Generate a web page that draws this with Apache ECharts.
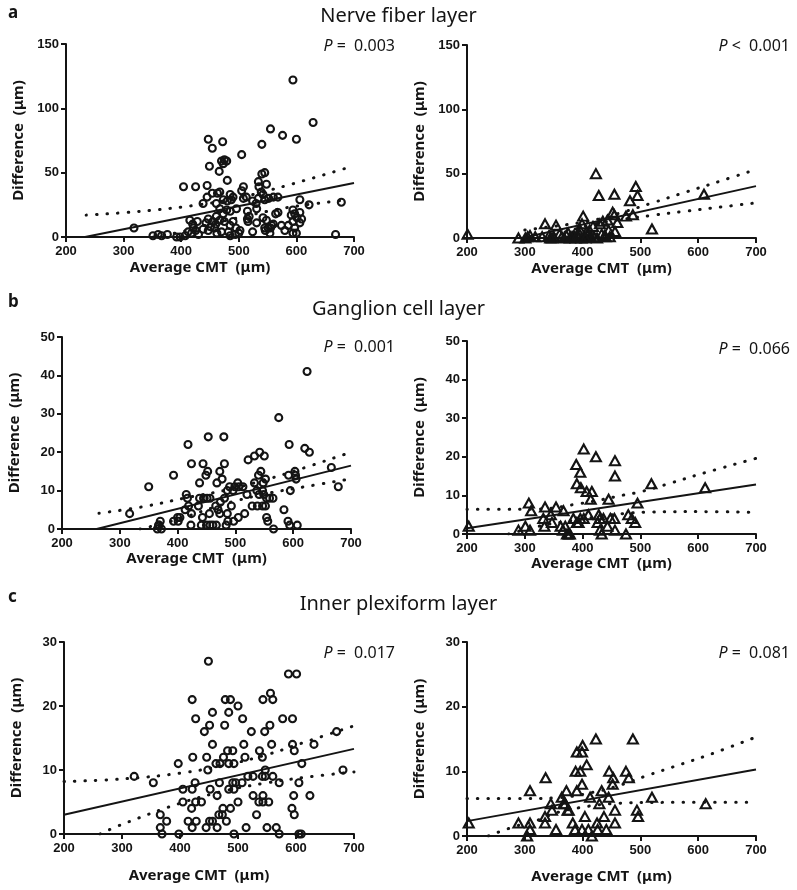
<!DOCTYPE html>
<html><head><meta charset="utf-8">
<script src="https://cdn.jsdelivr.net/npm/echarts@6/dist/echarts.min.js"></script>
<style>html,body{margin:0;padding:0;background:#fff}#c{width:797px;height:890px}</style>
</head><body><div id="c"></div>
<script>
// ---------- data ----------
const xTicks = [200, 300, 400, 500, 600, 700];
const nflYTicks = [0, 50, 100, 150];
const gclYTicks = [0, 10, 20, 30, 40, 50];
const iplYTicks = [0, 10, 20, 30];
const layerTitles = ['Nerve fiber layer', 'Ganglion cell layer', 'Inner plexiform layer'];
const panelLetters = ['a', 'b', 'c'];
const pSigns = ['=', '<', '=', '=', '=', '='];
const pValues = ['0.003', '0.001', '0.001', '0.066', '0.017', '0.081'];
const xName = 'Average CMT  (\u03bcm)';
const yName = 'Difference  (\u03bcm)';

// Nerve fiber layer – left (circles)
const nflLeftPoints = [[594,122],[629,89],[555,84],[576,79],[600,76],[540,72],[447,76],[472,74],[454,69],[505,64],
[470,59],[475,60],[479,59],[473,57],[449,55],[466,51],[480,44],[540,49],[545,50],[534,43],[548,41],
[404,39],[425,39],[445,40],[508,39],[505,36],[454,34],[463,34],[467,35],[445,31],[438,26],
[461,26],[473,29],[480,28],[487,29],[485,33],[490,31],[508,30],[513,31],[524,28],[530,26],
[535,39],[539,35],[542,33],[534,30],[545,29],[552,30],[560,31],[568,31],
[531,22],[515,20],[496,22],[479,21],[485,20],[467,22],[473,18],[461,16],[455,12],[467,13],
[447,14],[443,11],[451,8],[447,5],[438,6],[415,13],[420,10],[421,7],[418,3],
[407,1],[398,0],[392,0],[366,1],[360,2],[351,1],[318,7],
[485,9],[490,12],[495,7],[482,4],[494,2],[485,1],[516,12],[518,16],[515,14],[524,4],[531,11],
[542,15],[548,13],[557,9],[551,7],[545,7],[554,3],[568,19],[564,18],
[586,9],[594,12],[594,21],[597,18],[601,15],[606,19],[609,14],[606,11],[597,7],[594,3],
[622,25],[606,29],[668,2],[678,27],[591,17],
[425,5],[430,2],[460,10],[475,12],[500,3],[502,5],[470,4],[555,7],[560,10],[546,5],[412,4],[376,2],[462,3],[458,7],[428,12],[574,9],[580,5],[600,3]];
const nflLeftFit = [[233,0],[700,42]];
const nflLeftUpper = [[235,17],[330,20],[430,25],[500,30.5],[583,40],[690,54]];
const nflLeftLower = [[352,0],[400,4],[450,10],[500,15],[550,20],[600,24],[690,29]];

// Nerve fiber layer – right (triangles)
const nflRightPoints = [[201,3],[289,0],[301,0],[305,1],[309,2],[335,11],[354,10],[344,0],[347,0],[350,1],[364,1],[368,0],[372,2],[378,0],[383,1],[388,0],[393,1],[396,6],[399,11],[401,17],[407,5],[409,2],[413,2],[418,9],[420,1],[423,50],[425,0],[428,33],[430,11],[433,3],[435,13],[440,1],[443,14],[445,6],[447,1],[452,20],[455,34],[455,18],[456,5],[460,12],[475,17],[482,29],[487,18],[492,40],[495,33],[520,7],[610,34],
[360,3],[375,4],[385,2],[395,3],[403,1],[412,6],[380,1],[390,2],[398,0],[405,0],[438,2],[330,1],[342,2],[318,1]];
const nflRightFit = [[295,0],[700,40.3]];
const nflRightUpper = [[300,6.2],[340,8.5],[370,10.2],[420,13.9],[470,20.1],[520,27.2],[580,35.9],[640,44.5],[700,53.3]];
const nflRightLower = [[335,0],[370,4.7],[420,10.9],[470,14.6],[520,17.6],[580,20.9],[640,24.1],[700,27.3]];

// Ganglion cell layer – left
const gclLeftPoints = [[624,41],[575,29],[418,22],[453,24],[480,24],[593,22],[620,21],[628,20],
[424,17],[444,17],[481,17],[522,18],[533,19],[542,20],[550,19],
[393,14],[452,15],[473,15],[438,12],[449,14],[477,13],[350,11],[317,4],
[415,9],[417,8],[468,12],[490,11],[499,11],[506,11],[513,11],[486,10],[496,10],[504,12],[520,9],
[533,12],[540,14],[544,15],[548,12],[537,10],[541,9],[547,10],[552,13],
[529,6],[538,6],[547,6],[552,6],[549,9],[554,8],[559,8],[565,8],
[592,14],[605,13],[595,10],[603,15],[604,14],[666,16],[678,11],[584,5],[554,3],[556,2],[566,0],[591,2],[594,1],[607,1],
[516,4],[505,3],[497,2],[486,4],[487,2],[484,1],[455,4],[466,6],[470,5],[473,4],
[443,3],[450,1],[456,1],[461,1],[467,1],[424,4],[423,1],[441,1],[401,2],[393,2],[365,0],[367,1],[370,2],[372,0],[368,1],
[413,5],[419,6],[436,6],[445,8],[451,8],[456,8],[474,7],[481,8],[438,8],[446,8],[493,6],[400,3],[404,3]];
const gclLeftFit = [[260,0],[700,16.5]];
const gclLeftUpper = [[264,4.1],[340,5.8],[420,8.3],[480,10],[540,12.3],[600,15],[690,19.5]];
const gclLeftLower = [[335,0],[400,2.5],[460,5.5],[500,7.3],[560,9.4],[620,11],[690,12.8]];

// Ganglion cell layer – right
const gclRightPoints = [[203,2],[289,1],[301,2],[309,1],[307,8],[311,6],[332,4],[334,2],[335,7],[345,5],[347,3],[354,7],[362,2],[366,1],[367,6],[370,2],[373,0],[376,0],[378,0],[384,4],[389,18],[390,13],[390,3],[393,3],[396,16],[396,4],[397,12],[402,22],[402,4],[407,11],[410,5],[414,9],[416,11],[423,20],[426,3],[428,5],[430,4],[430,1],[433,0],[436,4],[443,2],[445,9],[448,4],[455,4],[456,19],[456,15],[456,1],[475,0],[479,5],[485,4],[491,3],[495,8],[519,13],[612,12]];
const gclRightFit = [[200,1.5],[700,12.8]];
const gclRightUpper = [[200,6.4],[260,6.4],[327,6.5],[396,7.9],[430,8.8],[471,10.1],[499,10.9],[546,12.9],[603,15.5],[700,19.6]];
const gclRightLower = [[272,0],[330,2.2],[378,3.4],[413,4.2],[471,5.3],[520,5.7],[603,5.8],[700,5.6]];

// Inner plexiform layer – left
const iplLeftPoints = [[449,27],[587,25],[601,25],[421,21],[478,21],[487,21],[543,21],[556,22],[560,21],
[456,19],[484,19],[500,20],[427,18],[508,18],[577,18],[594,18],[442,16],[451,17],[477,17],[523,16],[546,16],[555,17],
[456,14],[510,14],[558,14],[594,14],[631,14],[670,16],[482,13],[491,13],[537,13],[597,13],
[422,12],[446,12],[475,12],[512,12],[542,12],[462,11],[469,11],[484,11],[493,11],[397,11],[610,11],
[448,10],[547,10],[681,10],[321,9],[354,8],[426,8],[468,8],[491,8],[496,8],[507,8],[517,9],[526,9],[542,9],[547,9],[560,9],[571,8],[605,8],
[405,7],[421,7],[452,7],[484,7],[493,7],[464,6],[526,6],[543,6],[596,6],[624,6],
[405,5],[427,5],[437,5],[500,5],[536,5],[543,5],[553,5],[420,4],[474,4],[487,4],[593,4],
[366,3],[467,3],[473,3],[532,3],[597,3],[377,2],[414,2],[428,2],[451,2],[456,2],[480,2],
[366,1],[421,1],[445,1],[464,1],[514,1],[550,1],[566,1],[369,0],[398,0],[493,0],[571,0],[605,0],[609,0]];
const iplLeftFit = [[200,3],[700,13.3]];
const iplLeftUpper = [[200,8.2],[300,8.6],[400,9.5],[480,10.8],[550,12.4],[620,14.5],[700,16.9]];
const iplLeftLower = [[262,0],[300,1.5],[400,4.8],[480,6.8],[550,8.0],[620,8.9],[700,9.7]];

// Inner plexiform layer – right
const iplRightPoints = [[203,2],[289,2],[304,0],[309,1],[309,2],[309,7],[336,9],[335,3],[335,2],[345,5],[347,4],[354,1],[364,6],[367,5],[370,5],[372,7],[374,4],[376,4],[383,2],[387,1],[388,10],[390,13],[390,7],[396,10],[399,13],[399,8],[399,1],[400,14],[404,3],[407,11],[410,1],[413,6],[416,0],[423,15],[425,2],[426,1],[429,5],[433,7],[437,3],[441,1],[445,6],[446,10],[453,9],[452,8],[456,4],[456,2],[475,10],[480,9],[487,15],[494,4],[496,3],[520,6],[613,5]];
const iplRightFit = [[200,2.3],[700,10.3]];
const iplRightUpper = [[200,5.8],[300,5.8],[355,5.9],[420,6.8],[470,8.0],[510,9.3],[557,10.7],[620,12.6],[700,15.3]];
const iplRightLower = [[237,0],[280,1.4],[324,2.5],[355,3.6],[396,4.4],[450,5.0],[550,5.2],[700,5.2]];

// ---------- layout / style ----------
const INK = '#141414';
const panels = [
  {grid:{left:66, top:44, width:288, height:193}, pts:nflLeftPoints, fit:nflLeftFit, up:nflLeftUpper, lo:nflLeftLower, yt:nflYTicks, sym:'circle', xGap:23},
  {grid:{left:467, top:45, width:289, height:193}, pts:nflRightPoints, fit:nflRightFit, up:nflRightUpper, lo:nflRightLower, yt:nflYTicks, sym:'triangle', xGap:23},
  {grid:{left:62, top:337, width:289, height:192}, pts:gclLeftPoints, fit:gclLeftFit, up:gclLeftUpper, lo:gclLeftLower, yt:gclYTicks, sym:'circle', xGap:21},
  {grid:{left:467, top:341, width:289, height:193}, pts:gclRightPoints, fit:gclRightFit, up:gclRightUpper, lo:gclRightLower, yt:gclYTicks, sym:'triangle', xGap:19},
  {grid:{left:64, top:642, width:290, height:192}, pts:iplLeftPoints, fit:iplLeftFit, up:iplLeftUpper, lo:iplLeftLower, yt:iplYTicks, sym:'circle', xGap:34},
  {grid:{left:467, top:642, width:289, height:194}, pts:iplRightPoints, fit:iplRightFit, up:iplRightUpper, lo:iplRightLower, yt:iplYTicks, sym:'triangle', xGap:33}
];
const pTops = [38, 38, 339, 341, 645, 645];

const grids = [], xAxes = [], yAxes = [], series = [], titles = [];
panels.forEach((p, i) => {
  grids.push(Object.assign({containLabel:false}, p.grid));
  xAxes.push({
    type:'value', gridIndex:i, min:xTicks[0], max:xTicks[xTicks.length-1], interval:xTicks[1]-xTicks[0],
    axisLine:{show:true, onZero:false, lineStyle:{color:INK, width:2}},
    axisTick:{show:true, length:5, lineStyle:{color:INK, width:2}},
    axisLabel:{color:INK, fontFamily:'Liberation Sans', fontWeight:'bold', fontSize:13, margin:8},
    splitLine:{show:false},
    name:xName, nameLocation:'middle', nameGap:p.xGap,
    nameTextStyle:{color:INK, fontFamily:'Noto Sans', fontWeight:'bold', fontSize:15, padding:[0,20,0,0]}
  });
  yAxes.push({
    type:'value', gridIndex:i, min:p.yt[0], max:p.yt[p.yt.length-1], interval:p.yt[1]-p.yt[0],
    axisLine:{show:true, onZero:false, lineStyle:{color:INK, width:2}},
    axisTick:{show:true, length:5, lineStyle:{color:INK, width:2}},
    axisLabel:{color:INK, fontFamily:'Liberation Sans', fontWeight:'bold', fontSize:13, margin:7},
    splitLine:{show:false},
    name:yName, nameLocation:'middle', nameGap:40,
    nameTextStyle:{color:INK, fontFamily:'Noto Sans', fontWeight:'bold', fontSize:15}
  });
  series.push({
    type:'scatter', xAxisIndex:i, yAxisIndex:i, data:p.pts,
    symbol:p.sym, symbolSize:p.sym === 'circle' ? 7 : [10, 9],
    itemStyle:{color:'rgba(0,0,0,0)', borderColor:INK, borderWidth:2.1, opacity:1},
    z:3, silent:true
  });
  series.push({
    type:'line', xAxisIndex:i, yAxisIndex:i, data:p.fit, showSymbol:false, symbol:'none',
    lineStyle:{color:INK, width:2}, z:4, silent:true
  });
  [p.up, p.lo].forEach(band => series.push({
    type:'line', xAxisIndex:i, yAxisIndex:i, data:band, showSymbol:false, symbol:'none', smooth:0.4,
    lineStyle:{color:INK, width:3, type:[0.5, 10], cap:'round'}, z:4, silent:true
  }));
  const isLeft = (i % 2 === 0);
  titles.push({
    text:'{i|P} ' + pSigns[i] + '  ' + pValues[i],
    right: isLeft ? 402 : 7, top: pTops[i], padding:0,
    textStyle:{color:INK, fontFamily:'Noto Sans', fontSize:16, fontWeight:'normal',
      rich:{i:{fontStyle:'italic', fontFamily:'Noto Sans', fontSize:16, color:INK}}}
  });
});
const layerTops = [1, 294, 589];
const letterTops = [0, 289, 584];
layerTitles.forEach((t, k) => {
  titles.push({text:t, left:'center', top:layerTops[k],
    textStyle:{color:INK, fontFamily:'Noto Sans', fontSize:20, fontWeight:'normal'}});
  titles.push({text:panelLetters[k], left:3, top:letterTops[k],
    textStyle:{color:INK, fontFamily:'Noto Sans', fontSize:17, fontWeight:'bold'}});
});

const chart = echarts.init(document.getElementById('c'), null, {renderer:'canvas'});
chart.setOption({
  animation:false, backgroundColor:'#fff',
  title:titles, grid:grids, xAxis:xAxes, yAxis:yAxes, series:series
});
</script></body></html>
